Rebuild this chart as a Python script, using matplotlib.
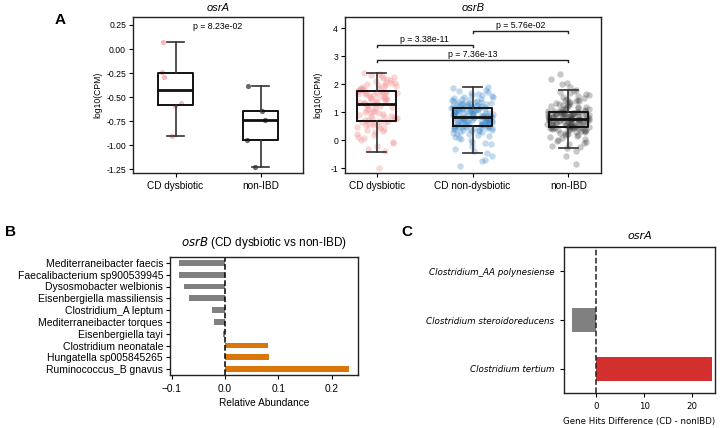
import numpy as np
import pandas as pd
import matplotlib
matplotlib.use("Agg")
import matplotlib.pyplot as plt
import seaborn as sns

plt.rcParams['font.family'] = ['Liberation Sans', 'DejaVu Sans']

# ---------------- data ----------------
osrA_groups = ["CD dysbiotic", "non-IBD"]
osrA_cd = [0.07, -0.24, -0.29, -0.59, -0.56, -0.91]
osrA_non = [-0.39, -0.65, -0.74, -0.95, -1.23]
osrA_p = "p = 8.23e-02"

osrB_groups = ["CD dysbiotic", "CD non-dysbiotic", "non-IBD"]
osrB_whislo = [-0.41, -0.45, -0.29]
osrB_q1 = [0.68, 0.50, 0.47]
osrB_med = [1.31, 0.83, 0.76]
osrB_q3 = [1.75, 1.16, 1.02]
osrB_whishi = [2.41, 1.90, 1.81]

osrB_cd_dys = [-100, -40, -30, -20, -10, -5, 2, 8, 12, 18, 22, 28, 32, 35, 40, 43, 47, 50, 53, 56, 59, 61, 63, 65, 67,
               69, 71, 73, 75, 77, 79, 82, 84, 86, 88, 91, 93, 96, 98, 101, 104, 106, 109, 112, 115, 118, 121, 124, 127, 130,
               132, 134, 136, 138, 140, 142, 144, 146, 148, 150, 152, 154, 156, 158, 160, 162, 164, 166, 167, 168, 170, 171, 172, 173, 174,
               176, 178, 180, 182, 184, 186, 188, 190, 192, 194, 196, 198, 200, 203, 206, 209, 212, 215, 218, 221, 225, 229, 233, 237, 241]
osrB_cd_nondys = [-93, -75, -70, -58, -45, -38, -30, -22, -15, -10, -5, 0, 4, 8, 12, 15, 18, 21, 24, 26, 28, 30, 32, 34, 35, 36, 38, 39, 40, 41, 42, 43, 44, 45, 46, 47, 48, 48, 49, 50,
                  51, 52, 53, 54, 55, 56, 57, 57, 58, 59, 60, 61, 62, 63, 63, 64, 65, 66, 67, 68, 69, 69, 70, 71, 72, 73, 74, 75, 75, 76, 77, 78, 78, 79, 80, 80, 81, 82, 82, 83,
                  84, 85, 86, 86, 87, 88, 89, 90, 91, 92, 92, 93, 94, 95, 96, 97, 98, 98, 99, 100, 101, 102, 103, 104, 104, 105, 106, 107, 108, 109, 110, 110, 111, 112, 113, 113, 114, 115, 115, 116,
                  117, 118, 119, 120, 121, 122, 123, 124, 125, 126, 127, 128, 129, 130, 131, 132, 133, 134, 136, 137, 138, 140, 141, 143, 145, 147, 149, 151, 153, 155, 157, 160, 163, 166, 169, 172, 176, 180, 185, 190]
osrB_nonibd = [-85, -55, -38, -29, -25, -20, -15, -10, -6, -2, 2, 5, 8, 11, 14, 17, 19, 21, 23, 25, 27, 29, 30, 32, 33, 35, 36, 37, 38, 39, 40, 41, 42, 43, 44, 44, 45, 46, 46, 47,
               48, 49, 49, 50, 51, 52, 52, 53, 54, 55, 56, 56, 57, 58, 59, 59, 60, 61, 62, 62, 63, 64, 65, 65, 66, 67, 68, 68, 69, 70, 70, 71, 72, 72, 73, 74, 74, 75, 75, 76,
               77, 77, 78, 79, 79, 80, 81, 81, 82, 83, 83, 84, 85, 85, 86, 87, 88, 88, 89, 90, 90, 91, 92, 92, 93, 94, 94, 95, 96, 96, 97, 98, 98, 99, 99, 100, 100, 101, 101, 102,
               103, 104, 106, 107, 108, 110, 111, 113, 114, 116, 118, 119, 121, 123, 125, 127, 129, 131, 133, 135, 137, 139, 141, 143, 145, 148, 151, 154, 157, 160, 164, 168, 172, 176, 181, 190, 200, 205, 220, 235]
osrB_pairs = [(0, 1), (1, 2), (0, 2)]
osrB_pvals = ["p = 3.38e-11", "p = 5.76e-02", "p = 7.36e-13"]
osrB_bracket_y = [3.41, 3.90, 2.87]

taxaB = ["Mediterraneibacter faecis", "Faecalibacterium sp900539945", "Dysosmobacter welbionis",
         "Eisenbergiella massiliensis", "Clostridium_A leptum", "Mediterraneibacter torques",
         "Eisenbergiella tayi", "Clostridium neonatale", "Hungatella sp005845265", "Ruminococcus_B gnavus"]
abundB = [-0.087, -0.087, -0.076, -0.067, -0.025, -0.021, -0.004, 0.080, 0.083, 0.233]

taxaC = ["Clostridium_AA polynesiense", "Clostridium steroidoreducens", "Clostridium tertium"]
hitsC = [0, -5, 24]

# ---------------- layout helpers ----------------
W, H = 720, 428
fig = plt.figure(figsize=(W / 100, H / 100), dpi=100)


def rect(l, t, r, b):
    return [l / W, 1 - b / H, (r - l) / W, (b - t) / H]


def style_spines(ax, lw=1.0):
    for s in ax.spines.values():
        s.set_linewidth(lw)
        s.set_color('#222222')


box_kw = dict(boxprops=dict(color='#111111', linewidth=1.4),
              medianprops=dict(color='#111111', linewidth=2.0),
              whiskerprops=dict(color='#333333', linewidth=1.2),
              capprops=dict(color='#333333', linewidth=1.2))

# ---------------- Panel A: osrA ----------------
axA1 = fig.add_axes(rect(133, 17, 303, 173))
jitA_cd = [-0.15, -0.16, -0.14, -0.01, 0.06, -0.04]
jitA_non = [-0.145, 0.015, 0.05, -0.16, -0.07]
axA1.scatter(0 + np.array(jitA_cd), osrA_cd, s=14, color='#f08080', alpha=0.55, linewidths=0, zorder=1)
axA1.scatter(1 + np.array(jitA_non), osrA_non, s=14, color='#444444', alpha=0.8, linewidths=0, zorder=1)
axA1.boxplot([osrA_cd, osrA_non], positions=[0, 1], widths=0.42, showfliers=False,
             patch_artist=False, whis=1.5, **box_kw)
axA1.set_xlim(-0.5, 1.5)
axA1.set_ylim(-1.29, 0.333)
axA1.set_yticks([0.25, 0.0, -0.25, -0.5, -0.75, -1.0, -1.25])
axA1.set_yticklabels(["0.25", "0.00", "-0.25", "-0.50", "-0.75", "-1.00", "-1.25"])
axA1.set_xticks([0, 1])
axA1.set_xticklabels(osrA_groups, fontsize=7.2)
axA1.tick_params(axis='y', labelsize=6.2, length=3, pad=2)
axA1.tick_params(axis='x', length=3, pad=3)
axA1.set_ylabel("log10(CPM)", fontsize=6.2, labelpad=3)
axA1.set_title("osrA", fontsize=8, style='italic', pad=4)
axA1.text(0.5, 0.23, osrA_p, fontsize=6.3, ha='center', va='center')
style_spines(axA1)

# ---------------- Panel A: osrB ----------------
axA2 = fig.add_axes(rect(345, 17, 601, 173))
colorsB = ['#f39a9a', '#3a86c8', '#3a3a3a']
alphasB = [0.4, 0.3, 0.28]
pointsB = [np.array(osrB_cd_dys) / 100, np.array(osrB_cd_nondys) / 100, np.array(osrB_nonibd) / 100]
dfB = pd.DataFrame({
    "group": sum([[g] * len(v) for g, v in zip(osrB_groups, pointsB)], []),
    "value": np.concatenate(pointsB),
})
np.random.seed(3)  # seaborn's own stripplot jitter (horizontal spread only)
for i, g in enumerate(osrB_groups):
    sub = dfB[dfB.group == g]
    sns.stripplot(x=np.full(len(sub), i), y=sub.value.values, native_scale=True, jitter=0.22,
                  color=colorsB[i], alpha=alphasB[i], size=4.6, linewidth=0, ax=axA2, zorder=1)
stats = []
for i in range(3):
    stats.append(dict(med=osrB_med[i], q1=osrB_q1[i], q3=osrB_q3[i],
                      whislo=osrB_whislo[i], whishi=osrB_whishi[i], fliers=[]))
axA2.bxp(stats, positions=[0, 1, 2], widths=0.41, showfliers=False, **box_kw)
for (a, b), pv, yb in zip(osrB_pairs, osrB_pvals, osrB_bracket_y):
    axA2.plot([a, a, b, b], [yb - 0.07, yb, yb, yb - 0.07], color='#222222', lw=1.0)
    axA2.text((a + b) / 2, yb + 0.02, pv, fontsize=6.3, ha='center', va='bottom')
axA2.set_xlim(-0.33, 2.34)
axA2.set_ylim(-1.17, 4.40)
axA2.set_yticks([-1, 0, 1, 2, 3, 4])
axA2.set_yticklabels(["-1", "0", "1", "2", "3", "4"])
axA2.set_xticks([0, 1, 2])
axA2.set_xticklabels(osrB_groups, fontsize=7.2)
axA2.tick_params(axis='y', labelsize=6.2, length=3, pad=2)
axA2.tick_params(axis='x', length=3, pad=3)
axA2.set_ylabel("log10(CPM)", fontsize=6.2, labelpad=6)
axA2.set_title("osrB", fontsize=8, style='italic', pad=4)
style_spines(axA2)

fig.text(60 / W, 1 - 20 / H, "A", fontsize=11, fontweight='bold', ha='center', va='center')

# ---------------- Panel B ----------------
axB = fig.add_axes(rect(170, 257, 358, 375))
ypos = np.arange(len(taxaB))
colB = ['#808080' if v < 0 else '#d9770b' for v in abundB]
axB.barh(ypos, abundB, height=0.5, color=colB)
axB.axvline(0, color='black', ls='--', lw=1.1)
axB.set_yticks(ypos)
axB.set_yticklabels(taxaB, fontsize=7.5)
axB.set_ylim(9.5, -0.5)
axB.set_xlim(-0.103, 0.249)
axB.set_xticks([-0.1, 0.0, 0.1, 0.2])
axB.set_xticklabels(["\u22120.1", "0.0", "0.1", "0.2"])
axB.tick_params(axis='x', labelsize=7.3, length=3)
axB.tick_params(axis='y', length=3, pad=2)
axB.set_xlabel("Relative Abundance", fontsize=7.3, labelpad=3)
axB.set_title("$\\it{osrB}$ (CD dysbiotic vs non-IBD)", fontsize=8.5, pad=8)
style_spines(axB)
fig.text(10 / W, 1 - 232 / H, "B", fontsize=11, fontweight='bold', ha='center', va='center')

# ---------------- Panel C ----------------
axC = fig.add_axes(rect(564, 247, 715, 393))
yC = np.arange(len(taxaC))
colC = ['#808080' if v <= 0 else '#d32f2f' for v in hitsC]
axC.barh(yC, hitsC, height=0.5, color=colC)
axC.axvline(0, color='#222222', ls='--', lw=1.1)
axC.set_yticks(yC)
axC.set_yticklabels(taxaC, fontsize=6.3, style='italic', family='DejaVu Sans')
axC.set_ylim(2.5, -0.5)
axC.set_xlim(-6.6, 24.7)
axC.set_xticks([0, 10, 20])
axC.tick_params(axis='x', labelsize=6.2, length=3)
axC.tick_params(axis='y', length=3, pad=4)
for lab in axC.get_xticklabels():
    lab.set_family('DejaVu Sans')
axC.set_xlabel("Gene Hits Difference (CD - nonIBD)", fontsize=6.2, family='DejaVu Sans', labelpad=4)
axC.set_title("osrA", fontsize=8, style='italic', family='DejaVu Sans', pad=6)
style_spines(axC)
fig.text(407 / W, 1 - 232 / H, "C", fontsize=11, fontweight='bold', ha='center', va='center')

fig.savefig("out.png", dpi=100)
